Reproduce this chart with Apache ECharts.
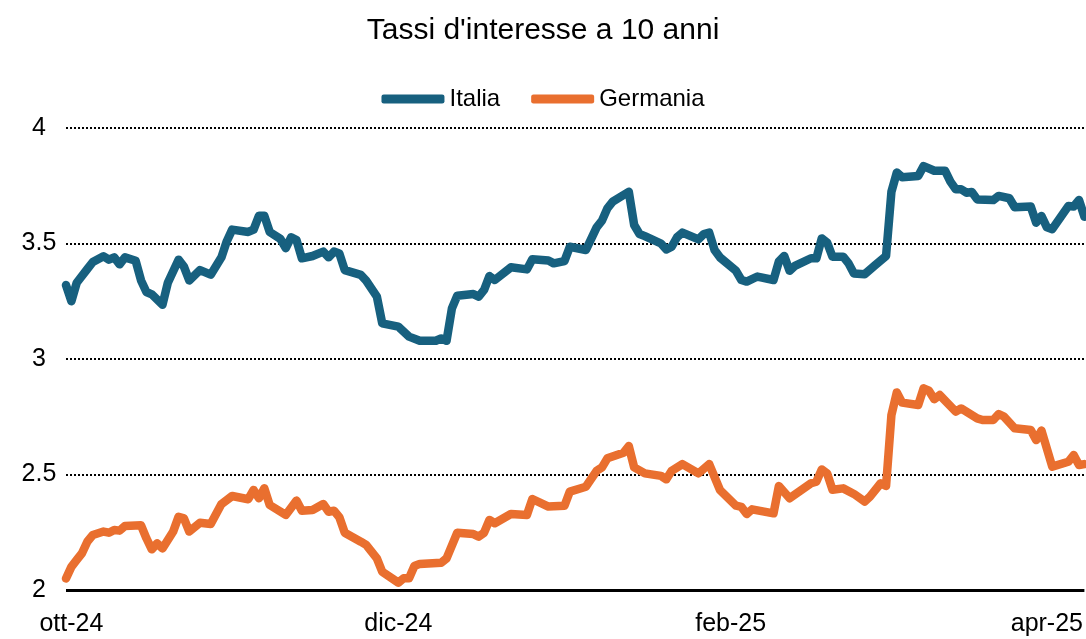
<!DOCTYPE html>
<html>
<head>
<meta charset="utf-8">
<script src="https://cdn.jsdelivr.net/npm/echarts@6/dist/echarts.min.js"></script>
<style>
html,body{margin:0;padding:0;background:#fff;}
#chart{width:1086px;height:639px;}
</style>
</head>
<body>
<div id="chart"></div>
<script>
// Axis range and tick labels
const axisStart = '2024-09-30';
const axisEnd = '2025-04-08';
const tickDates = ['2024-10-01', '2024-12-01', '2025-02-01', '2025-04-01'];
const tickLabels = ['ott-24', 'dic-24', 'feb-25', 'apr-25'];
const yTicks = [2, 2.5, 3, 3.5, 4];

// Italia
const italiaDates = [
 '2024-09-30','2024-10-01','2024-10-02','2024-10-04','2024-10-05','2024-10-07','2024-10-08','2024-10-09','2024-10-10','2024-10-11',
 '2024-10-13','2024-10-14','2024-10-15','2024-10-16','2024-10-18','2024-10-19','2024-10-21','2024-10-22','2024-10-23','2024-10-25',
 '2024-10-27','2024-10-29','2024-10-30','2024-10-31','2024-11-03','2024-11-04','2024-11-05','2024-11-06','2024-11-07','2024-11-09',
 '2024-11-10','2024-11-11','2024-11-12','2024-11-13','2024-11-15','2024-11-17','2024-11-18','2024-11-19','2024-11-20','2024-11-21',
 '2024-11-24','2024-11-25','2024-11-27','2024-11-28','2024-12-01','2024-12-03','2024-12-05','2024-12-08','2024-12-09','2024-12-10',
 '2024-12-11','2024-12-12','2024-12-15','2024-12-16','2024-12-17','2024-12-18','2024-12-19','2024-12-22','2024-12-25','2024-12-26',
 '2024-12-29','2024-12-30','2025-01-01','2025-01-02','2025-01-05','2025-01-07','2025-01-08','2025-01-09','2025-01-10','2025-01-13',
 '2025-01-14','2025-01-15','2025-01-16','2025-01-19','2025-01-20','2025-01-21','2025-01-22','2025-01-23','2025-01-26','2025-01-27',
 '2025-01-28','2025-01-29','2025-01-30','2025-02-02','2025-02-03','2025-02-04','2025-02-06','2025-02-09','2025-02-10','2025-02-11',
 '2025-02-12','2025-02-13','2025-02-16','2025-02-17','2025-02-18','2025-02-19','2025-02-20','2025-02-22','2025-02-23','2025-02-24',
 '2025-02-26','2025-02-28','2025-03-02','2025-03-03','2025-03-04','2025-03-05','2025-03-08','2025-03-09','2025-03-11','2025-03-13',
 '2025-03-14','2025-03-15','2025-03-16','2025-03-17','2025-03-18','2025-03-19','2025-03-22','2025-03-23','2025-03-25','2025-03-26',
 '2025-03-29','2025-03-30','2025-03-31','2025-04-01','2025-04-02','2025-04-05','2025-04-06','2025-04-07','2025-04-08'
];
const italiaValues = [
 3.32,3.25,3.33,3.39,3.42,3.445,3.43,3.44,3.41,3.44,
 3.425,3.34,3.29,3.28,3.235,3.33,3.43,3.40,3.34,3.385,
 3.365,3.44,3.51,3.56,3.55,3.56,3.62,3.62,3.55,3.52,
 3.48,3.527,3.515,3.436,3.446,3.465,3.44,3.465,3.457,3.385,
 3.364,3.339,3.27,3.154,3.14,3.097,3.079,3.079,3.089,3.079,
 3.219,3.274,3.281,3.27,3.299,3.359,3.342,3.397,3.388,3.432,
 3.426,3.414,3.424,3.486,3.472,3.57,3.599,3.652,3.681,3.724,
 3.58,3.541,3.532,3.50,3.474,3.486,3.527,3.547,3.518,3.541,
 3.547,3.472,3.44,3.382,3.342,3.335,3.357,3.342,3.422,3.446,
 3.382,3.403,3.436,3.436,3.522,3.504,3.443,3.443,3.414,3.37,
 3.367,3.407,3.446,3.724,3.807,3.787,3.792,3.835,3.815,3.815,
 3.768,3.735,3.735,3.72,3.723,3.691,3.688,3.706,3.696,3.657,
 3.66,3.59,3.619,3.57,3.562,3.662,3.66,3.688,3.616
];

// Germania
const germaniaDates = [
 '2024-09-30','2024-10-01','2024-10-02','2024-10-03','2024-10-04','2024-10-05','2024-10-07','2024-10-08','2024-10-09','2024-10-10',
 '2024-10-11','2024-10-14','2024-10-15','2024-10-16','2024-10-17','2024-10-18','2024-10-20','2024-10-21','2024-10-22','2024-10-23',
 '2024-10-25','2024-10-27','2024-10-29','2024-10-31','2024-11-03','2024-11-04','2024-11-05','2024-11-06','2024-11-07','2024-11-10',
 '2024-11-12','2024-11-13','2024-11-15','2024-11-17','2024-11-18','2024-11-19','2024-11-20','2024-11-21','2024-11-24','2024-11-25',
 '2024-11-27','2024-11-28','2024-12-01','2024-12-02','2024-12-03','2024-12-04','2024-12-05','2024-12-09','2024-12-10','2024-12-12',
 '2024-12-15','2024-12-16','2024-12-17','2024-12-18','2024-12-19','2024-12-22','2024-12-25','2024-12-26','2024-12-29','2025-01-01',
 '2025-01-02','2025-01-05','2025-01-07','2025-01-08','2025-01-09','2025-01-12','2025-01-13','2025-01-14','2025-01-16','2025-01-19',
 '2025-01-20','2025-01-21','2025-01-23','2025-01-26','2025-01-28','2025-01-30','2025-02-02','2025-02-03','2025-02-04','2025-02-05',
 '2025-02-09','2025-02-10','2025-02-12','2025-02-16','2025-02-17','2025-02-18','2025-02-19','2025-02-20','2025-02-22','2025-02-24',
 '2025-02-26','2025-02-27','2025-03-01','2025-03-02','2025-03-03','2025-03-04','2025-03-05','2025-03-08','2025-03-09','2025-03-10',
 '2025-03-11','2025-03-12','2025-03-15','2025-03-16','2025-03-19','2025-03-20','2025-03-22','2025-03-23','2025-03-24','2025-03-26',
 '2025-03-29','2025-03-30','2025-03-31','2025-04-02','2025-04-05','2025-04-06','2025-04-07','2025-04-08'
];
const germaniaValues = [
 2.05,2.10,2.13,2.16,2.21,2.238,2.253,2.248,2.26,2.257,
 2.277,2.28,2.224,2.176,2.202,2.18,2.253,2.317,2.31,2.253,
 2.291,2.286,2.372,2.407,2.393,2.433,2.397,2.44,2.368,2.325,
 2.387,2.343,2.346,2.372,2.339,2.343,2.315,2.248,2.209,2.195,
 2.137,2.079,2.032,2.051,2.051,2.104,2.113,2.118,2.137,2.248,
 2.242,2.231,2.248,2.303,2.289,2.329,2.325,2.394,2.361,2.365,
 2.426,2.447,2.516,2.531,2.57,2.594,2.623,2.531,2.505,2.494,
 2.479,2.516,2.545,2.505,2.545,2.433,2.365,2.36,2.329,2.349,
 2.332,2.45,2.397,2.462,2.469,2.522,2.505,2.434,2.44,2.416,
 2.383,2.404,2.462,2.45,2.758,2.855,2.811,2.801,2.873,2.863,
 2.826,2.844,2.772,2.786,2.743,2.736,2.736,2.762,2.751,2.70,
 2.693,2.649,2.69,2.534,2.555,2.584,2.541,2.545
];

function ts(s) {
  const p = s.split('-').map(Number);
  return Date.UTC(p[0], p[1] - 1, p[2]);
}
function pairs(dates, vals) {
  return dates.map((d, i) => [ts(d), vals[i]]);
}
const tickTs = tickDates.map(ts);

const font = '"Liberation Sans", Arial, sans-serif';
const chart = echarts.init(document.getElementById('chart'), null, {renderer: 'canvas'});
chart.setOption({
  animation: false,
  backgroundColor: '#ffffff',
  title: {
    text: "Tassi d'interesse a 10 anni",
    left: 'center',
    top: 11,
    textStyle: {fontFamily: font, fontSize: 30, fontWeight: 'normal', color: '#000'}
  },
  legend: {
    top: 82,
    left: 'center',
    icon: 'roundRect',
    itemWidth: 63,
    itemHeight: 9,
    itemGap: 31,
    textStyle: {fontFamily: font, fontSize: 24, color: '#000'},
    data: ['Italia', 'Germania']
  },
  grid: {left: 66, right: 0, top: 128, bottom: 49, containLabel: false},
  xAxis: {
    type: 'value',
    min: ts(axisStart),
    max: ts(axisEnd),
    axisLine: {show: false},
    axisTick: {show: false},
    splitLine: {show: false},
    axisLabel: {
      customValues: tickTs,
      hideOverlap: false,
      margin: 22,
      fontFamily: font,
      fontSize: 25,
      color: '#000',
      formatter: function (v) {
        const i = tickTs.indexOf(v);
        return i >= 0 ? tickLabels[i] : '';
      }
    }
  },
  yAxis: {
    type: 'value',
    min: yTicks[0],
    max: yTicks[yTicks.length - 1],
    interval: 0.5,
    axisLine: {show: false},
    axisTick: {show: false},
    axisLabel: {
      margin: 27,
      align: 'center',
      fontFamily: font,
      fontSize: 25,
      color: '#000'
    },
    splitLine: {
      show: true,
      lineStyle: {color: '#000', width: 2, type: [2, 2]}
    }
  },
  series: [
    {
      name: 'Italia',
      type: 'line',
      data: pairs(italiaDates, italiaValues),
      showSymbol: false,
      symbol: 'none',
      color: '#17607f',
      lineStyle: {width: 8.5, color: '#17607f', cap: 'round', join: 'round'},
      markLine: {
        silent: true, symbol: 'none', label: {show: false},
        lineStyle: {color: '#000', width: 3, type: 'solid'},
        data: [{yAxis: 2}]
      }
    },
    {
      name: 'Germania',
      type: 'line',
      data: pairs(germaniaDates, germaniaValues),
      showSymbol: false,
      symbol: 'none',
      color: '#e96f2f',
      lineStyle: {width: 8.5, color: '#e96f2f', cap: 'round', join: 'round'}
    }
  ]
});
</script>
</body>
</html>
